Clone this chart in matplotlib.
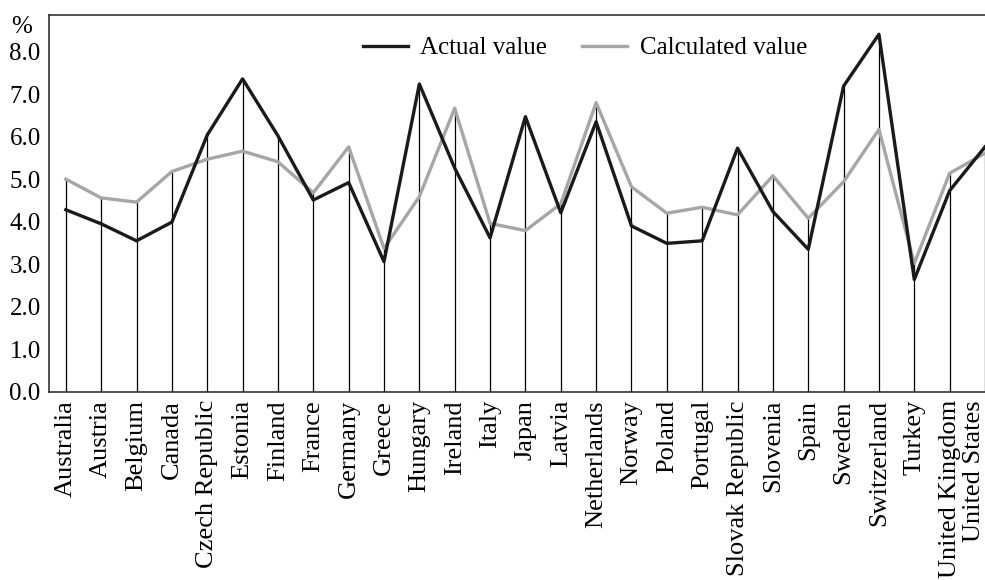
import numpy as np
import matplotlib.pyplot as plt
import matplotlib.transforms as mtransforms

countries = ['Australia', 'Austria', 'Belgium', 'Canada', 'Czech Republic', 'Estonia',
             'Finland', 'France', 'Germany', 'Greece', 'Hungary', 'Ireland', 'Italy',
             'Japan', 'Latvia', 'Netherlands', 'Norway', 'Poland', 'Portugal',
             'Slovak Republic', 'Slovenia', 'Spain', 'Sweden', 'Switzerland', 'Turkey',
             'United Kingdom', 'United States']
actual = [4.28, 3.95, 3.55, 3.99, 6.04, 7.36, 6.02, 4.51, 4.92, 3.06, 7.24, 5.26, 3.62,
          6.47, 4.21, 6.35, 3.90, 3.49, 3.55, 5.73, 4.24, 3.35, 7.19, 8.41, 2.64, 4.73, 5.76]
calculated = [5.00, 4.56, 4.46, 5.18, 5.47, 5.66, 5.41, 4.68, 5.76, 3.37, 4.59, 6.67, 3.96,
              3.79, 4.42, 6.80, 4.82, 4.20, 4.34, 4.16, 5.08, 4.08, 4.94, 6.17, 3.02, 5.14, 5.61]
yticks = [0, 1, 2, 3, 4, 5, 6, 7, 8]

plt.rcParams['font.family'] = ['Liberation Serif', 'DejaVu Serif']
plt.rcParams['font.size'] = 18

fig = plt.figure(figsize=(9.85, 5.8), dpi=100)
ax = fig.add_axes([49 / 985, 1 - 391.7 / 580, 1 - 49 / 985, (391.7 - 14.7) / 580])

x = np.arange(len(countries))
top = np.maximum(actual, calculated)
ax.vlines(x, 0, top, color='black', lw=0.9, zorder=1)
ax.plot(x, actual, color='#1a1a1a', lw=2.4, label='Actual value', zorder=3)
ax.plot(x, calculated, color='#a6a6a6', lw=2.4, label='Calculated value', zorder=2)

ax.set_xlim(-0.476, (985 - 66.3) / 36.34)
ax.set_ylim(0, 8.87)
ax.set_xticks(x)
ax.set_xticklabels(countries, rotation=90, fontsize=19)
ax.set_yticks(yticks)
ax.set_yticklabels(['%.1f' % v for v in yticks])
ax.tick_params(axis='x', length=0, pad=6)
ax.tick_params(axis='y', length=0, pad=6)

# keep the last label inside the picture
last = ax.get_xticklabels()[-1]
last.set_transform(last.get_transform() + mtransforms.ScaledTranslation(-11 / 100, 0, fig.dpi_scale_trans))

for s in ['left', 'top', 'bottom']:
    ax.spines[s].set_color('#333333')
    ax.spines[s].set_linewidth(1.2)
ax.spines['right'].set_visible(False)

fig.text(22 / 985, 1 - 27 / 580, '%', ha='center', va='center', fontsize=18)

ax.legend(loc='center', bbox_to_anchor=(585 / 985, 1 - 48 / 580), bbox_transform=fig.transFigure,
          ncol=2, frameon=False, handlelength=1.8, columnspacing=1.4, handletextpad=0.5)

fig.savefig('out.png', dpi=100)
